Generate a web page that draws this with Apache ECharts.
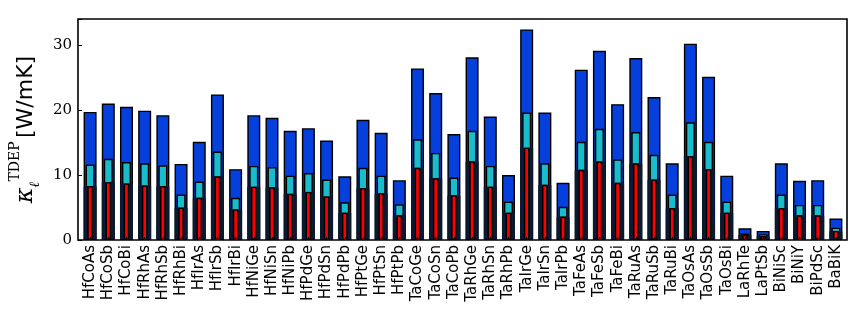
<!DOCTYPE html>
<html>
<head>
<meta charset="utf-8">
<script src="https://cdn.jsdelivr.net/npm/echarts@6/dist/echarts.min.js"></script>
<style>
  html, body { margin: 0; padding: 0; background: #fff; }
  #chart { width: 867px; height: 325px; }
</style>
</head>
<body>
<div id="chart"></div>
<script>
const compounds = ['HfCoAs', 'HfCoSb', 'HfCoBi', 'HfRhAs', 'HfRhSb', 'HfRhBi', 'HfIrAs', 'HfIrSb', 'HfIrBi',
  'HfNiGe', 'HfNiSn', 'HfNiPb', 'HfPdGe', 'HfPdSn', 'HfPdPb', 'HfPtGe', 'HfPtSn', 'HfPtPb',
  'TaCoGe', 'TaCoSn', 'TaCoPb', 'TaRhGe', 'TaRhSn', 'TaRhPb', 'TaIrGe', 'TaIrSn', 'TaIrPb',
  'TaFeAs', 'TaFeSb', 'TaFeBi', 'TaRuAs', 'TaRuSb', 'TaRuBi', 'TaOsAs', 'TaOsSb', 'TaOsBi',
  'LaRhTe', 'LaPtSb', 'BiNiSc', 'BiNiY', 'BiPdSc', 'BaBiK']

// tallest (blue), middle (cyan), lowest (red)
const kappaBlue = [19.7, 21.0, 20.5, 19.9, 19.2, 11.7, 15.1, 22.4, 10.9,
  19.2, 18.8, 16.8, 17.2, 15.3, 9.8, 18.5, 16.5, 9.2,
  26.4, 22.6, 16.3, 28.1, 19.0, 10.0, 32.4, 19.6, 8.8,
  26.2, 29.1, 20.9, 28.0, 22.0, 11.8, 30.2, 25.1, 9.9,
  1.8, 1.4, 11.8, 9.1, 9.2, 3.3]
const kappaCyan = [11.6, 12.5, 12.0, 11.8, 11.5, 7.0, 9.0, 13.6, 6.5,
  11.4, 11.2, 9.9, 10.3, 9.3, 5.8, 11.1, 9.9, 5.5,
  15.5, 13.4, 9.6, 16.8, 11.4, 5.9, 19.6, 11.8, 5.1,
  15.1, 17.1, 12.4, 16.6, 13.1, 7.0, 18.1, 15.1, 5.9,
  1.0, 0.9, 7.0, 5.4, 5.4, 1.9]
const kappaRed = [8.3, 8.9, 8.7, 8.4, 8.3, 5.0, 6.5, 9.8, 4.7,
  8.2, 8.1, 7.1, 7.4, 6.7, 4.2, 8.0, 7.2, 3.8,
  11.1, 9.5, 6.9, 12.1, 8.2, 4.2, 14.2, 8.5, 3.6,
  10.8, 12.1, 8.8, 11.8, 9.3, 4.9, 12.9, 10.9, 4.2,
  0.8, 0.6, 4.9, 3.8, 3.8, 1.4]

const yTicks = [0, 10, 20, 30]

const chart = echarts.init(document.getElementById('chart'))

const gridBox = { left: 78, right: 20, top: 19, bottom: 85 }
const gridBars = { left: 81, right: 22, top: 19, bottom: 85 }

// one hidden category axis per layer so each bar is centred on its category
function catAxis(i, show) {
  return {
    type: 'category',
    gridIndex: 1,
    data: compounds,
    show: show,
    z: 5,
    axisLine: { show: false },
    axisTick: { show: show, inside: true, alignWithLabel: true, length: 3, lineStyle: { color: '#000', width: 1 } },
    axisLabel: {
      show: show,
      rotate: 90,
      interval: 0,
      margin: 5,
      fontFamily: 'DejaVu Sans',
      fontSize: 15,
      color: '#000'
    }
  }
}

function barSeries(idx, data, width, color, z) {
  return {
    type: 'bar',
    xAxisIndex: idx + 1,
    yAxisIndex: 1,
    data: data,
    barWidth: width,
    z: z,
    itemStyle: { color: color, borderColor: '#000', borderWidth: 1.4 },
    emphasis: { disabled: true }
  }
}

chart.setOption({
  animation: false,
  grid: [
    Object.assign({ show: true, borderColor: '#000', borderWidth: 1.6, backgroundColor: 'transparent', z: 10 }, gridBox),
    gridBars
  ],
  xAxis: [
    { type: 'value', gridIndex: 0, show: false, min: 0, max: 1 },
    catAxis(0, true),
    catAxis(1, false),
    catAxis(2, false),
    catAxis(3, false)
  ],
  yAxis: [
    {
      type: 'value',
      gridIndex: 0,
      min: 0,
      max: 34,
      interval: 10,
      axisLine: { show: false },
      axisTick: { show: true, inside: true, length: 4, lineStyle: { color: '#000' } },
      splitLine: { show: false },
      axisLabel: {
        margin: 6,
        fontFamily: 'DejaVu Serif',
        fontSize: 15,
        color: '#000',
        customValues: yTicks
      },
      name: '{k|κ}{l|ℓ}{s|TDEP} {u|[W/mK]}',
      nameLocation: 'middle',
      nameGap: 36,
      nameRotate: 90,
      nameTextStyle: {
        rich: {
          k: { fontFamily: 'DejaVu Serif', fontStyle: 'italic', fontSize: 24, color: '#000', verticalAlign: 'bottom' },
          l: { fontFamily: 'DejaVu Serif', fontStyle: 'italic', fontSize: 14, color: '#000', verticalAlign: 'bottom', padding: [0, 0, -4, 0] },
          s: { fontFamily: 'DejaVu Serif', fontSize: 14, color: '#000', verticalAlign: 'top', padding: [-6, 0, 0, 0] },
          u: { fontFamily: 'DejaVu Sans', fontSize: 22, color: '#000' }
        }
      }
    },
    { type: 'value', gridIndex: 1, min: 0, max: 34, show: false }
  ],
  series: [
    barSeries(0, kappaBlue, 13, '#0540dc', 2),
    barSeries(1, kappaCyan, 9, '#19bccb', 3),
    Object.assign(barSeries(2, kappaRed, 13, '#0b1a30', 4), { itemStyle: { color: '#0b1a30', borderColor: '#0b1a30', borderWidth: 1 } }),
    barSeries(3, kappaRed, 5.5, '#ff0000', 5)
  ]
})
</script>
</body>
</html>
